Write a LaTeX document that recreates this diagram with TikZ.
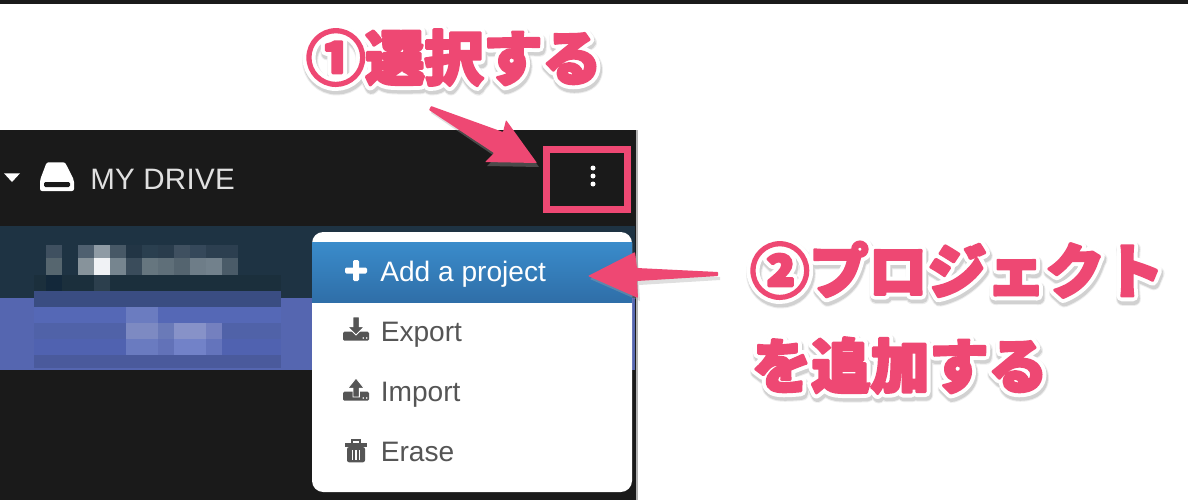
\documentclass[tikz,border=0pt]{standalone}
\usepackage{fontspec}
\usepackage{tikz}
\setmainfont{Liberation Sans}
\newfontfamily\cjkfill[UprightFont={* Black}]{Noto Sans CJK JP}
\newfontfamily\drivefont[LetterSpace=1]{Liberation Sans}
\definecolor{calloutpink}{HTML}{EE4873}
\definecolor{panel}{HTML}{1A1A1A}
\definecolor{menugray}{HTML}{555555}
\definecolor{rowdark}{HTML}{1E3343}
\definecolor{rowblue}{HTML}{5566B0}
\definecolor{bandtop}{HTML}{3A8CCB}
\definecolor{bandbottom}{HTML}{2F6EA8}
\tikzset{
  callout/.style={anchor=base west, inner sep=0pt, font=\fontsize{42}{42}\selectfont\cjkfill},
  menuitem/.style={anchor=base west, inner sep=0pt, text=menugray, font=\fontsize{20}{20}\selectfont},
}
% stroked text layers: #1 line width, #2 colour operands
\newcommand{\strokelayer}[3]{\special{pdf:code q 2 Tr #1 w 1 j 1 J #2 rg #2 RG}#3\special{pdf:code Q}}
\newcommand{\halotext}[1]{%
  \rlap{\kern0.8pt\raisebox{-2.2pt}{\strokelayer{9.6}{0.93 0.93 0.93}{#1}}}%
  \rlap{\kern0.8pt\raisebox{-2.2pt}{\strokelayer{8.2}{0.82 0.82 0.82}{#1}}}%
  \rlap{\strokelayer{7.6}{1 1 1}{#1}}%
  \strokelayer{2}{0.933 0.282 0.451}{#1}}
\begin{document}
\begin{tikzpicture}[x=0.025cm, y=-0.025cm]
   %
   \useasboundingbox (0,0) rectangle (1188,500);
   \fill[white] (0,0) rectangle (1188,500);
   \fill[panel] (0,0) rectangle (1188,4);
   %
   \fill[panel] (0,130) rectangle (636,500);
   \fill[black!30] (636,130) rectangle (638,500);
   %
   \fill[fill=white] (4,173.3)--(20,173.3)--(12,182)--cycle;
   \fill[fill=white, rounded corners=1.5] (46.7,162.3)--(65,162.3)--(74,180)--(74,191)--(40,191)--(40,180)--cycle;
   \fill[panel, rounded corners=1] (44,182) rectangle (70,187);
   \node[anchor=base west, inner sep=0pt, text=black!12, font=\fontsize{21}{21}\selectfont\drivefont] (drive) at (90,189) {MY DRIVE};
   %
   \fill[fill=white] (593,168) circle (2.5);
   \fill[fill=white] (593,176) circle (2.5);
   \fill[fill=white] (593,184) circle (2.5);
   %
   \fill[fill=rowdark] (0,226) rectangle (635,298);
   \fill[fill=rowblue] (0,298) rectangle (635,370);
   %
   % blurred name
   \foreach \x/\c in {46/3F5060,78/4F6070,94/8F9BA5,110/475866,126/223545,142/2A3F4F,158/293C4C,174/3F5060,190/35485A,206/2C3F50,222/2C3F50}
     {\definecolor{cell}{HTML}{\c}\fill[cell] (\x,245) rectangle (\x+16,258);}
   \foreach \x/\c in {46/56666F,78/87939B,94/F0F2F5,110/76858F,126/3A4C5B,142/66767F,158/5F6F79,174/54646F,190/6E7D88,206/72818C,222/4A5B68}
     {\definecolor{cell}{HTML}{\c}\fill[cell] (\x,258) rectangle (\x+16,275);}
   \foreach \x/\w/\y/\h/\c in {
       34/247/275/16/1B2F3C, 46/16/275/16/13283A, 94/16/275/16/2C3F4D,
       34/247/291/16/3A4D82,
       34/247/307/16/5568B6, 126/32/307/16/6B7CC0,
       34/247/323/16/5062A8, 126/32/323/16/7D8AC2, 158/16/323/16/6A7AB8, 174/32/323/16/8792C8, 206/16/323/16/7480BF,
       34/247/339/16/5062B0, 126/32/339/16/6A7BC0, 158/16/339/16/6272B8, 174/32/339/16/7282C8, 206/16/339/16/6474BC,
       34/247/355/13/4A5A9C}
     {\definecolor{cell}{HTML}{\c}\fill[cell] (\x,\y) rectangle (\x+\w,\y+\h);}
   %
   % menu
   \fill[white, rounded corners=8] (312,232) rectangle (632,492);
   \shade[top color=bandtop, bottom color=bandbottom] (312,242) rectangle (632,302);
   %
   \fill[fill=white, rounded corners=1] (345,267.5) rectangle (367,273.5);
   \fill[fill=white, rounded corners=1] (353,260) rectangle (359,281);
   \node[menuitem, text=white] (addproject) at (380,281) {Add a project};
   %
   \fill[menugray, rounded corners=1] (343,331.7) rectangle (369,340.7);
   \fill[menugray, draw=white, line width=0.7] (353,317)--(359.3,317)--(359.3,326.7)--(364.3,326.7)--(356,335)--(347.7,326.7)--(353,326.7)--cycle;
   \fill[white] (363.3,338) circle (0.9);
   \fill[white] (366.7,338) circle (0.9);
   \node[menuitem] (export) at (380.5,341) {Export};
   %
   \fill[menugray, rounded corners=1] (343,391.7) rectangle (369,400.7);
   \fill[menugray, draw=white, line width=0.7] (353,397)--(359.3,397)--(359.3,388.3)--(364.3,388.3)--(356,378)--(347.7,388.3)--(353,388.3)--cycle;
   \fill[white] (363.3,398) circle (0.9);
   \fill[white] (366.7,398) circle (0.9);
   \node[menuitem] (import) at (380.5,401) {Import};
   %
   \fill[menugray] (345,443) rectangle (367,447);
   \draw[menugray, line width=1] (352,443)--(352,440)--(360,440)--(360,443);
   \fill[menugray, rounded corners=1.5] (347,447) rectangle (365,462.3);
   \foreach \x in {352.5,356,359.5}
     \draw[white, line width=0.8] (\x,450)--(\x,460);
   \node[menuitem] (erase) at (380.5,461) {Erase};
   %
   % red frame
   \draw[calloutpink, line width=4.7] (546.5,149.5) rectangle (627.5,209.5);
   %
   % arrows
   \fill[black!35, opacity=0.35] (432,111)--(505,136)--(508,124)--(539,167)--(487,166)--(496,157)--(431,113)--cycle;
   \fill[fill=calloutpink, rounded corners=0.5] (431,106)--(503,132)--(506,120)--(537,163)--(485,162)--(494,153)--(429,110)--cycle;
   \fill[black!35, opacity=0.35] (720,277)--(639,271)--(637,255)--(590,279)--(640,301)--(639,285)--(720,280)--cycle;
   \fill[fill=calloutpink, rounded corners=0.5] (718,272)--(637,268)--(635,252)--(588,276)--(638,298)--(637,281)--(718,276)--cycle;
   %
   % callouts
   \node[callout] (selectlabel) at (306,80) {\halotext{①選択する}};
   \node[callout] (projectlabel) at (750,293) {\halotext{②プロジェクト}};
   \node[callout] (addlabel) at (752,388) {\halotext{を追加する}};
   %
\end{tikzpicture}
\end{document}
